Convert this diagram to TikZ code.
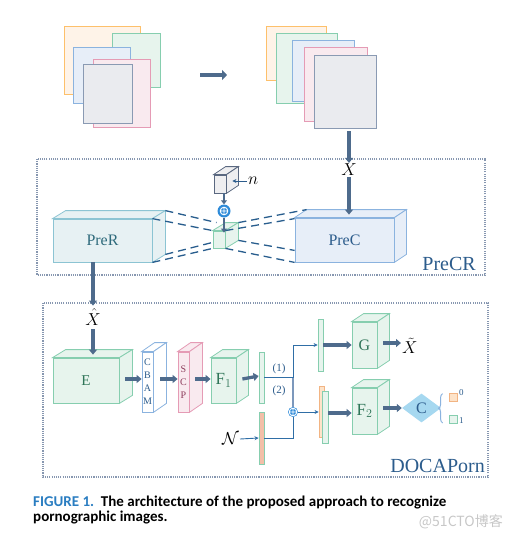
\documentclass[tikz,border=0pt]{standalone}
\usepackage{fontspec}
\setmainfont{Liberation Serif}
\newfontfamily\capfont{Carlito}
\newfontfamily\cjkfont{Noto Sans CJK SC}
\usetikzlibrary{positioning}
\usetikzlibrary{shapes.geometric}
\usetikzlibrary{arrows.meta}
\usetikzlibrary{decorations.pathreplacing}
\definecolor{arrc}{HTML}{4E6B8C}
\definecolor{thinc}{HTML}{2F6EA6}
\definecolor{dotc}{HTML}{8797B0}
\definecolor{orgline}{HTML}{FDC06B}\definecolor{orgfill}{HTML}{FEF3E8}
\definecolor{grnline}{HTML}{86CEAF}\definecolor{grnfill}{HTML}{E7F4ED}
\definecolor{bluline}{HTML}{8BB3DF}\definecolor{blufill}{HTML}{E7EEF8}
\definecolor{pnkline}{HTML}{E59BB5}\definecolor{pnkfill}{HTML}{F9EAEF}
\definecolor{gryline}{HTML}{8A9AB3}\definecolor{gryfill}{HTML}{EAEBEF}
\definecolor{tealine}{HTML}{8CC4D3}\definecolor{teafill}{HTML}{E7F1F3}
\definecolor{grntext}{HTML}{2F7558}
\definecolor{blutext}{HTML}{2C5C8C}
\definecolor{teatext}{HTML}{2E6A7B}
\definecolor{pnktext}{HTML}{8D3D5C}
\definecolor{noiline}{HTML}{5A6880}\definecolor{noifill}{HTML}{EEEEF0}
\definecolor{salfill}{HTML}{F3BFA8}
\definecolor{legorg}{HTML}{FDE3C9}\definecolor{legorgl}{HTML}{F2B483}
\definecolor{diafill}{HTML}{A6D8F0}
\definecolor{plusc}{HTML}{2E8BD9}
\definecolor{figblue}{HTML}{2A7DC1}
\definecolor{vlinec}{HTML}{7C98BC}
\tikzset{
    stko/.style = {draw=orgline, fill=orgfill, line width=0.8pt},
    stkg/.style = {draw=grnline, fill=grnfill, line width=0.8pt},
    stkb/.style = {draw=bluline, fill=blufill, line width=0.8pt},
    stkp/.style = {draw=pnkline, fill=pnkfill, line width=0.8pt},
    stky/.style = {draw=gryline, fill=gryfill, line width=0.8pt},
    front/.style = {rectangle, inner sep=0pt, line width=0.8pt},
    facet/.style = {draw=tealine, fill=teafill, line width=0.8pt},
    faceb/.style = {draw=bluline, fill=blufill, line width=0.8pt},
    faceg/.style = {draw=grnline, fill=grnfill, line width=0.8pt},
    facen/.style = {draw=noiline, fill=noifill, line width=0.8pt},
    facew/.style = {draw=bluline, fill=white, line width=0.8pt},
    facep/.style = {draw=pnkline, fill=pnkfill, line width=0.8pt},
    bigarrow/.style = {-{Triangle[length=5pt,width=8pt]}, line width=3.3pt, draw=arrc},
    thinarrow/.style = {-{Stealth[length=4pt,width=4pt]}, line width=0.9pt, draw=thinc},
    thinline/.style = {-, line width=0.9pt, draw=thinc},
    zoomline/.style = {-, line width=1.3pt, draw=thinc!85!black, dash pattern=on 8pt off 5pt},
    dotframe/.style = {draw=dotc, line width=1.6pt, dash pattern=on 1.1pt off 1.1pt},
    framelabel/.style = {font=\fontsize{20}{20}\selectfont, text=blutext, inner sep=0pt},
    addc/.style = {circle, fill=plusc, minimum size=13pt, inner sep=0pt,
        path picture={\draw[white, line width=0.9pt]
            (path picture bounding box.center) circle (3.8pt)
            ([xshift=-3.8pt]path picture bounding box.center) -- ([xshift=3.8pt]path picture bounding box.center)
            ([yshift=-3.8pt]path picture bounding box.center) -- ([yshift=3.8pt]path picture bounding box.center);}},
    mathlab/.style = {inner sep=1pt, font=\fontsize{16}{16}\selectfont},
    bar/.style = {rectangle, inner sep=0pt, minimum width=5pt, line width=0.8pt}
}
% top and right faces of a box drawn behind node #1
\newcommand{\faces}[4]{%
  \draw[#4] (#1.north west) -- ++(#2,-#3) -- ([shift={(#2,-#3)}]#1.north east) -- (#1.north east) -- cycle;
  \draw[#4] (#1.north east) -- ++(#2,-#3) -- ([shift={(#2,-#3)}]#1.south east) -- (#1.south east) -- cycle;
}
\begin{document}
\begin{tikzpicture}[x=1pt, y=-1pt]
  \useasboundingbox (0,0) rectangle (514,538);
  % input images
  \draw[stko] (64,26) rectangle (140,94);
  \draw[stkg] (112,33) rectangle (160,87);
  \draw[stkb] (73,47) rectangle (130,103);
  \draw[stkp] (93,59) rectangle (150,127);
  \draw[stky] (83,64) rectangle (132,123);
  \draw[stko] (266,26) rectangle (326,80);
  \draw[stkg] (276,33) rectangle (337,103);
  \draw[stkb] (292,40) rectangle (354,101);
  \draw[stkp] (304,47) rectangle (367,121);
  \draw[stky] (314,55) rectangle (376,128);
  \coordinate (ta) at (200,75);
  \coordinate (tb) at (227,75);
  \draw[bigarrow, line width=4.2pt, -{Triangle[length=5pt,width=10pt]}] (ta) -- (tb);
  \coordinate (stk) at (349,131);

  % PreCR
  \draw[dotframe] (37,159) rectangle (485,275);
  \node[framelabel, anchor=base east] (precr) at (476,270) {PreCR};
  \node[front, draw=tealine, fill=teafill, minimum width=99pt, minimum height=43pt,
        text=teatext, font=\fontsize{16}{16}\selectfont] (prer) at (102.5,240.5) {PreR};
  \faces{prer}{13}{8}{facet}
  \node[front, draw=bluline, fill=blufill, minimum width=99pt, minimum height=44pt,
        text=blutext, font=\fontsize{16}{16}\selectfont] (prec) at (344.5,240) {PreC};
  \faces{prec}{12}{8}{faceb}
  \node[front, draw=grnline, fill=grnfill, minimum width=12pt, minimum height=17pt] (code) at (219,239.5) {};
  \faces{code}{13}{8}{faceg}
  \node[front, draw=noiline, fill=noifill, minimum width=12pt, minimum height=18pt] (noise) at (220,184) {};
  \faces{noise}{12}{8}{facen}
  \node[mathlab, anchor=west] (nlab) at (247,181) {$n$};
  \draw[thinarrow, draw=blutext] (nlab.west) -- ([xshift=6pt,yshift=3pt]noise.east);
  \node[addc] (plus1) at (224,211) {};
  \draw[bigarrow, line width=2.6pt, -{Triangle[length=4pt,width=6pt]}] (plus1 |- noise.south) -- (plus1.north);
  \draw[bigarrow, line width=2.6pt, -{Triangle[length=4pt,width=6pt]}, shorten >=-2pt] (plus1.south) -- (plus1 |- code.north);
  \node[mathlab] (xin) at (349,170) {$X$};
  \draw[bigarrow] (stk) -- (xin.north);
  \draw[bigarrow, shorten >=3pt] (xin.south) -- (xin |- prec.north);
  % zoom lines
  \draw[zoomline] ([shift={(13,-8)}]prer.north east) -- ([shift={(4,-8)}]code.north west);
  \draw[zoomline] (prer.north east) -- (code.north west);
  \draw[zoomline] ([shift={(13,-8)}]prer.south east) -- ([yshift=6pt]code.south west);
  \draw[zoomline] (prer.south east) -- (code.south west);
  \draw[zoomline] ([shift={(13,-8)}]code.north east) -- ([shift={(12,-8)}]prec.north west);
  \draw[zoomline] (code.north east) -- ([yshift=-1pt]prec.north west);
  \draw[zoomline] ([shift={(13,-8)}]code.south east) -- ([yshift=12pt]prec.south west);
  \draw[zoomline] (code.south east) -- (prec.south west);

  % DOCAPorn
  \draw[dotframe] (43,303) rectangle (488,477);
  \node[framelabel, anchor=base east] (docaporn) at (485,472) {DOCAPorn};
  \node[mathlab] (xhat) at (93,317) {$\hat{X}$};
  \draw[bigarrow] (xhat |- prer.south) -- ([yshift=2pt]xhat.north);
  \node[front, draw=grnline, fill=grnfill, minimum width=66pt, minimum height=45pt,
        text=grntext, font=\fontsize{15}{15}\selectfont] (enc) at (86,380.5) {E};
  \faces{enc}{13}{8}{faceg}
  \draw[bigarrow, shorten >=3pt] ([yshift=-3pt]xhat.south) -- (xhat |- enc.north);
  \node[front, draw=bluline, fill=white, minimum width=11pt, minimum height=60pt, align=center,
        text=blutext, font=\fontsize{10}{13}\selectfont] (cbam) at (147.5,382) {C\\B\\A\\M};
  \faces{cbam}{13}{9}{facew}
  \node[front, draw=pnkline, fill=pnkfill, minimum width=11pt, minimum height=60pt, align=center,
        text=pnktext, font=\fontsize{10}{13}\selectfont] (scp) at (183.5,382) {S\\C\\P};
  \faces{scp}{13}{9}{facep}
  \node[front, draw=grnline, fill=grnfill, minimum width=25pt, minimum height=45pt,
        text=grntext, font=\fontsize{17}{17}\selectfont] (fone) at (223.5,380.5) {F$_1$};
  \faces{fone}{12}{8}{faceg}
  \draw[bigarrow] ([xshift=6pt,yshift=1.5pt]enc.east) -- ([yshift=3pt]cbam.west);
  \draw[bigarrow] ([xshift=7pt,yshift=3pt]cbam.east) -- ([yshift=3pt]scp.west);
  \draw[bigarrow] ([xshift=6pt,yshift=3pt]scp.east) -- ([yshift=1.5pt]fone.west);

  \node[bar, draw=grnline, fill=grnfill, minimum height=51pt] (b1) at (261.5,377.5) {};
  \node[bar, draw=grnline, fill=salfill, minimum height=52pt] (bn) at (261.5,438) {};
  \draw[bigarrow] ([xshift=6pt,yshift=1.5pt]fone.east) -- ([yshift=1.5pt]b1.west);
  \node[mathlab, anchor=east] (nn) at (240,439) {$\mathcal{N}$};
  \draw[thinarrow] (nn.east) -- (bn.west);

  \node[bar, draw=grnline, fill=grnfill, minimum height=52pt] (b2) at (320.5,345) {};
  \node[bar, draw=legorgl, fill=legorg, minimum height=51pt] (b3o) at (321.5,411.5) {};
  \node[bar, draw=grnline, fill=grnfill, minimum width=6pt, minimum height=52pt] (b3) at (325,417) {};
  \coordinate (j) at (293,377.5);
  \node[addc, minimum size=10pt] (plus2) at (293,412) {};
  \draw[-, line width=1.5pt, draw=vlinec] (j) -- (plus2.north);
  \draw[thinline] (b1.east) -- (j);
  \draw[thinarrow] (j) |- (b2.west);
  \draw[thinarrow] (plus2.east) -- (plus2 -| b3o.west);
  \draw[thinline] (bn.east) -| (plus2.south);
  \node[text=blutext, font=\fontsize{11}{11}\selectfont] (one) at (279,369) {(1)};
  \node[text=blutext, font=\fontsize{11}{11}\selectfont] (two) at (279,391) {(2)};

  \node[front, draw=grnline, fill=grnfill, minimum width=25pt, minimum height=46pt,
        text=grntext, font=\fontsize{16}{16}\selectfont] (gen) at (364.5,345) {G};
  \faces{gen}{12}{8}{faceg}
  \node[front, draw=grnline, fill=grnfill, minimum width=25pt, minimum height=46pt,
        text=grntext, font=\fontsize{17}{17}\selectfont] (ftwo) at (364.5,411) {F$_2$};
  \faces{ftwo}{12}{8}{faceg}
  \draw[bigarrow] (b2.east) -- (gen.west);
  \draw[bigarrow] ([yshift=4pt]b3.east) -- ([yshift=-2pt]ftwo.west);
  \node[mathlab, anchor=west] (xtil) at (401,346) {$\tilde{X}$};
  \coordinate (ga) at ([xshift=6pt,yshift=2pt]gen.east);
  \draw[bigarrow] (ga) -- (ga -| xtil.west);
  \node[diamond, fill=diafill, inner sep=0pt, minimum width=39pt, minimum height=29pt,
        text=blutext, font=\fontsize{16}{16}\selectfont] (cls) at (421.5,408) {C};
  \draw[bigarrow] ([xshift=6pt,yshift=3pt]ftwo.east) -- (cls.west);
  \node[rectangle, draw=legorgl, fill=legorg, line width=0.8pt, minimum size=8pt, inner sep=0pt] (sq0) at (453,397) {};
  \node[rectangle, draw=grnline, fill=grnfill, line width=0.8pt, minimum size=8pt, inner sep=0pt] (sq1) at (453,419.5) {};
  \node[anchor=west, inner sep=1.5pt, text=blutext, font=\fontsize{9}{9}\selectfont] (lab0) at (sq0.north east) {0};
  \node[anchor=west, inner sep=1.5pt, text=blutext, font=\fontsize{9}{9}\selectfont] (lab1) at ([yshift=-1pt]sq1.east) {1};
  \draw[decorate, decoration={brace, amplitude=4pt}, draw=bluline, line width=1pt]
    ([xshift=-6pt,yshift=1pt]sq1.south west) -- ([xshift=-6pt,yshift=-1pt]sq0.north west);

  % caption
  \node[anchor=base west, inner sep=0pt, font=\capfont\bfseries\fontsize{15}{15}\selectfont] (cap1) at (33,506)
    {{\color{figblue}FIGURE 1.}\ \ The architecture of the proposed approach to recognize};
  \node[anchor=base west, inner sep=0pt, font=\capfont\bfseries\fontsize{15}{15}\selectfont] (cap2) at (33,521)
    {pornographic images.};
  \node[anchor=base east, inner sep=0pt, text=black!22, font=\cjkfont\fontsize{14}{14}\selectfont] (mark) at (503,526)
    {@51CTO博客};
\end{tikzpicture}
\end{document}
